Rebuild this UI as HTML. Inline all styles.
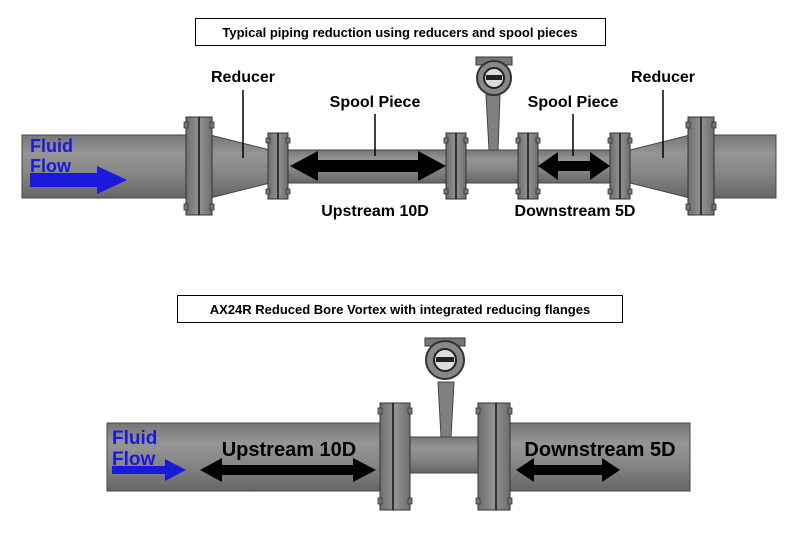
<!DOCTYPE html>
<html><head><meta charset="utf-8"><style>
body{margin:0;background:#fff;}
svg text{font-family:"Liberation Sans",sans-serif;font-weight:bold;}
</style></head><body>
<svg width="800" height="534" viewBox="0 0 800 534" xmlns="http://www.w3.org/2000/svg">
<defs>
<linearGradient id="pg" x1="0" y1="0" x2="0" y2="1">
<stop offset="0" stop-color="#777"/><stop offset="0.3" stop-color="#959595"/><stop offset="0.6" stop-color="#868686"/><stop offset="1" stop-color="#666"/>
</linearGradient>
<linearGradient id="fg" x1="0" y1="0" x2="1" y2="0">
<stop offset="0" stop-color="#6e6e6e"/><stop offset="0.5" stop-color="#939393"/><stop offset="1" stop-color="#6e6e6e"/>
</linearGradient>
</defs>
<rect x="195.5" y="18.5" width="410" height="27" fill="#fff" stroke="#000"/>
<text x="400" y="37" font-size="13" text-anchor="middle">Typical piping reduction using reducers and spool pieces</text>

<rect x="22" y="135" width="165" height="63" fill="url(#pg)" stroke="#444"/>
<rect x="712" y="135" width="64" height="63" fill="url(#pg)" stroke="#444"/>
<polygon points="210,135 270,150 270,183 210,198" fill="url(#pg)" stroke="#444"/>
<polygon points="630,150 690,135 690,198 630,183" fill="url(#pg)" stroke="#444"/>
<rect x="288" y="150" width="324" height="33" fill="url(#pg)" stroke="#444"/>
<g fill="url(#fg)" stroke="#333">
<rect x="186" y="117" width="26" height="98"/><rect x="688" y="117" width="26" height="98"/>
<rect x="268" y="133" width="20" height="66"/><rect x="446" y="133" width="20" height="66"/>
<rect x="518" y="133" width="20" height="66"/><rect x="610" y="133" width="20" height="66"/>
</g>
<g fill="#777" stroke="#333" stroke-width="0.8">
<rect x="184" y="122" width="4" height="6"/><rect x="210" y="122" width="4" height="6"/><rect x="184" y="204" width="4" height="6"/><rect x="210" y="204" width="4" height="6"/>
<rect x="686" y="122" width="4" height="6"/><rect x="712" y="122" width="4" height="6"/><rect x="686" y="204" width="4" height="6"/><rect x="712" y="204" width="4" height="6"/>
<rect x="266" y="138" width="4" height="5"/><rect x="286" y="138" width="4" height="5"/><rect x="266" y="189" width="4" height="5"/><rect x="286" y="189" width="4" height="5"/>
<rect x="444" y="138" width="4" height="5"/><rect x="464" y="138" width="4" height="5"/><rect x="444" y="189" width="4" height="5"/><rect x="464" y="189" width="4" height="5"/>
<rect x="516" y="138" width="4" height="5"/><rect x="536" y="138" width="4" height="5"/><rect x="516" y="189" width="4" height="5"/><rect x="536" y="189" width="4" height="5"/>
<rect x="608" y="138" width="4" height="5"/><rect x="628" y="138" width="4" height="5"/><rect x="608" y="189" width="4" height="5"/><rect x="628" y="189" width="4" height="5"/>
</g>
<g stroke="#111" stroke-width="1.5">
<line x1="199" y1="117" x2="199" y2="215"/><line x1="701" y1="117" x2="701" y2="215"/>
<line x1="278" y1="133" x2="278" y2="199"/><line x1="456" y1="133" x2="456" y2="199"/>
<line x1="528" y1="133" x2="528" y2="199"/><line x1="620" y1="133" x2="620" y2="199"/>
</g>
<polygon points="486,95 500,95 498,150 489,150" fill="#808080" stroke="#444"/>
<rect x="476" y="57" width="36" height="8" fill="#777" stroke="#333"/>
<circle cx="494" cy="78" r="17" fill="#888" stroke="#333" stroke-width="2"/>
<circle cx="494" cy="78" r="10" fill="#ddd" stroke="#222" stroke-width="2"/>
<rect x="486" y="75" width="16" height="5" fill="#222"/>
<text x="30" y="152" font-size="18" fill="#1a1adc">Fluid</text>
<text x="30" y="172" font-size="18" fill="#1a1adc">Flow</text>
<polygon points="30,173 97,173 97,166 127,180 97,194 97,187 30,187" fill="#1a1adc"/>
<polygon points="290,166 318,151 318,160 418,160 418,151 446,166 418,181 418,172 318,172 318,181" fill="#000"/>
<polygon points="538,166 558,152 558,161 590,161 590,152 610,166 590,180 590,171 558,171 558,180" fill="#000"/>
<text x="243" y="82" font-size="16" text-anchor="middle">Reducer</text>
<line x1="243" y1="90" x2="243" y2="158" stroke="#000" stroke-width="1.5"/>
<text x="375" y="107" font-size="16" text-anchor="middle">Spool Piece</text>
<line x1="375" y1="114" x2="375" y2="156" stroke="#000" stroke-width="1.5"/>
<text x="573" y="107" font-size="16" text-anchor="middle">Spool Piece</text>
<line x1="573" y1="114" x2="573" y2="156" stroke="#000" stroke-width="1.5"/>
<text x="663" y="82" font-size="16" text-anchor="middle">Reducer</text>
<line x1="663" y1="90" x2="663" y2="158" stroke="#000" stroke-width="1.5"/>
<text x="375" y="216" font-size="16" text-anchor="middle">Upstream 10D</text>
<text x="575" y="216" font-size="16" text-anchor="middle">Downstream 5D</text>

<rect x="177.5" y="295.5" width="445" height="27" fill="#fff" stroke="#000"/>
<text x="400" y="314" font-size="13" text-anchor="middle">AX24R Reduced Bore Vortex with integrated reducing flanges</text>

<rect x="107" y="423" width="275" height="68" fill="url(#pg)" stroke="#444"/>
<rect x="510" y="423" width="180" height="68" fill="url(#pg)" stroke="#444"/>
<rect x="410" y="437" width="70" height="36" fill="url(#pg)" stroke="#444"/>
<g fill="url(#fg)" stroke="#333">
<rect x="380" y="403" width="30" height="107"/><rect x="478" y="403" width="32" height="107"/>
</g>
<g fill="#777" stroke="#333" stroke-width="0.8">
<rect x="378" y="408" width="4" height="6"/><rect x="408" y="408" width="4" height="6"/><rect x="378" y="498" width="4" height="6"/><rect x="408" y="498" width="4" height="6"/>
<rect x="476" y="408" width="4" height="6"/><rect x="508" y="408" width="4" height="6"/><rect x="476" y="498" width="4" height="6"/><rect x="508" y="498" width="4" height="6"/>
</g>
<g stroke="#111" stroke-width="1.5">
<line x1="393" y1="403" x2="393" y2="510"/><line x1="496" y1="403" x2="496" y2="510"/>
</g>
<polygon points="438,382 454,382 451,437 441,437" fill="#808080" stroke="#444"/>
<rect x="425" y="338" width="40" height="8" fill="#777" stroke="#333"/>
<circle cx="445" cy="360" r="19" fill="#888" stroke="#333" stroke-width="2"/>
<circle cx="445" cy="360" r="11" fill="#ddd" stroke="#222" stroke-width="2"/>
<rect x="436" y="357" width="18" height="5" fill="#222"/>

<text x="112" y="444" font-size="19" fill="#1a1adc">Fluid</text>
<text x="112" y="465" font-size="19" fill="#1a1adc">Flow</text>
<polygon points="112,466 165,466 165,459 186,470 165,481 165,474 112,474" fill="#1a1adc"/>
<polygon points="200,470 222,458 222,465 353,465 353,458 376,470 353,482 353,475 222,475 222,482" fill="#000"/>
<polygon points="516,470 534,458 534,465 602,465 602,458 620,470 602,482 602,475 534,475 534,482" fill="#000"/>
<text x="289" y="456" font-size="20" text-anchor="middle">Upstream 10D</text>
<text x="600" y="456" font-size="20" text-anchor="middle">Downstream 5D</text>
</svg>
</body></html>
